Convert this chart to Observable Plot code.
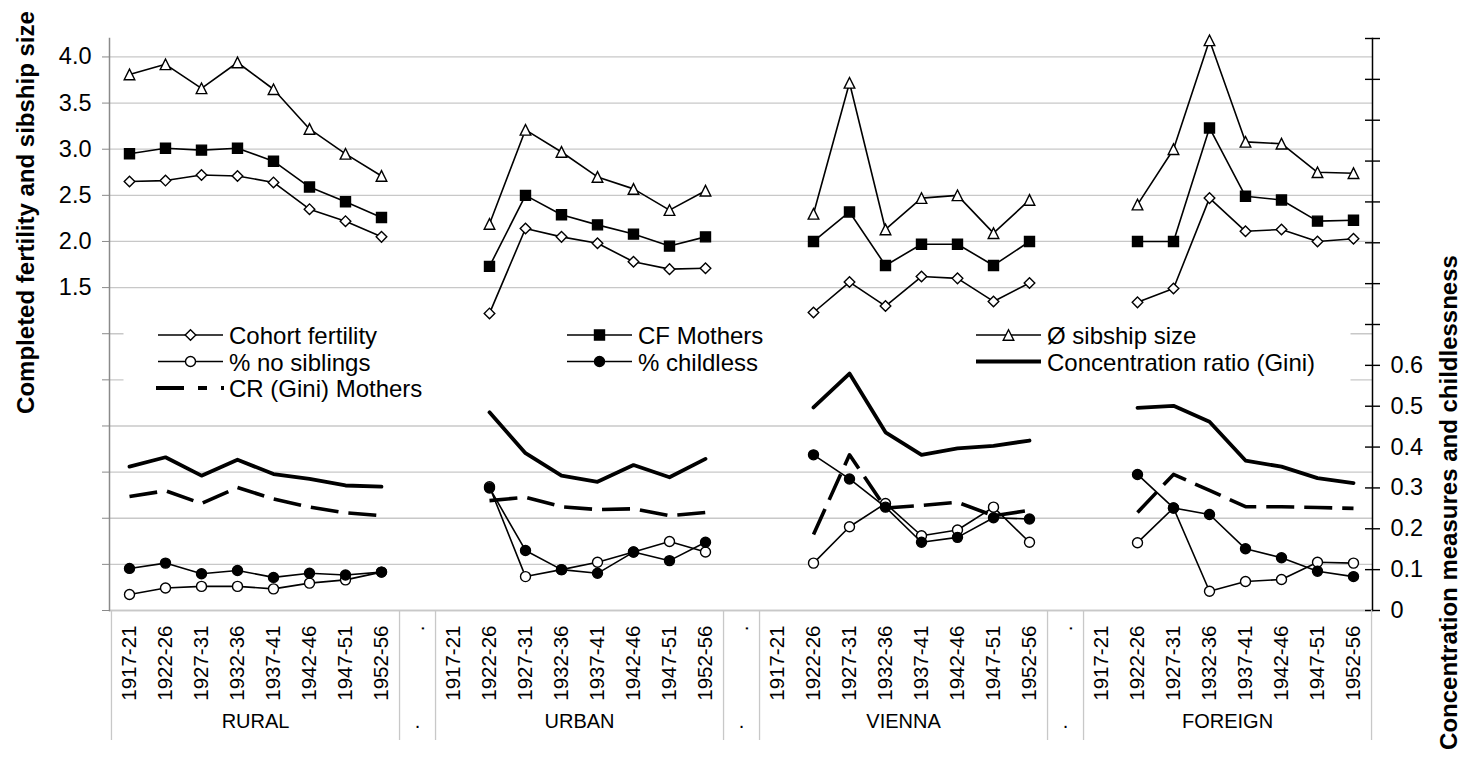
<!DOCTYPE html>
<html><head><meta charset="utf-8">
<script src="https://cdn.jsdelivr.net/npm/d3@7"></script>
<script src="https://cdn.jsdelivr.net/npm/@observablehq/plot@0.6"></script>
<style>
html,body{margin:0;padding:0;background:#fff;}
#chart{position:relative;width:1465px;height:758px;overflow:hidden;}
</style></head><body><div id="chart"></div>
<script>
// ---------- data ----------
const periods = ["1917-21","1922-26","1927-31","1932-36","1937-41","1942-46","1947-51","1952-56"];
const regions = ["RURAL","URBAN","VIENNA","FOREIGN"];
// values by region (8 periods each): RURAL, URBAN, VIENNA, FOREIGN
const cohortFertility = [
  2.65,2.66,2.72,2.71,2.64,2.35,2.22,2.05,
  null,1.22,2.14,2.05,1.98,1.78,1.70,1.71,
  null,1.23,1.56,1.30,1.62,1.60,1.35,1.55,
  null,1.34,1.49,2.47,2.11,2.13,2.00,2.03];
const cfMothers = [
  2.95,3.01,2.99,3.01,2.87,2.59,2.43,2.26,
  null,1.73,2.50,2.29,2.18,2.08,1.95,2.05,
  null,2.00,2.32,1.74,1.97,1.97,1.74,2.00,
  null,2.00,2.00,3.23,2.49,2.45,2.22,2.23];
const sibshipSize = [
  3.81,3.92,3.66,3.94,3.65,3.22,2.95,2.71,
  null,2.19,3.21,2.97,2.70,2.57,2.34,2.55,
  null,2.30,3.72,2.13,2.47,2.50,2.09,2.45,
  null,2.40,3.00,4.18,3.08,3.06,2.75,2.74];
const noSiblings = [
  0.039,0.055,0.059,0.059,0.053,0.067,0.075,0.094,
  null,0.303,0.083,0.100,0.118,0.143,0.169,0.143,
  null,0.116,0.205,0.262,0.183,0.197,0.253,0.167,
  null,0.166,0.251,0.047,0.071,0.076,0.118,0.116];
const childless = [
  0.103,0.116,0.090,0.098,0.081,0.091,0.087,0.094,
  null,0.300,0.147,0.100,0.091,0.143,0.122,0.167,
  null,0.381,0.322,0.253,0.167,0.179,0.227,0.224,
  null,0.333,0.251,0.235,0.151,0.129,0.096,0.083];
const gini = [
  0.352,0.375,0.330,0.369,0.334,0.322,0.306,0.303,
  null,0.485,0.385,0.330,0.315,0.356,0.326,0.371,
  null,0.497,0.580,0.436,0.381,0.397,0.403,0.416,
  null,0.496,0.501,0.462,0.367,0.352,0.324,0.312];
const crMothers = [
  0.279,0.293,0.262,0.301,0.273,0.253,0.239,0.232,
  null,0.269,0.277,0.254,0.247,0.249,0.232,0.240,
  null,0.186,0.381,0.251,0.257,0.265,0.232,0.245,
  null,0.240,0.333,0.294,0.254,0.254,0.252,0.250];

const leftDomain = [-2, 4.2];
const rightDomain = [0, 1.4];
const leftTicks = d3.range(-2, 4.001, 0.5);
const leftLabelMin = 1.5;
const rightTicks = d3.range(0, 1.401, 0.1);
const rightLabelMax = 0.6;

const leftTitle = "Completed fertility and sibship size";
const rightTitle = "Concentration measures and childlessness";

// ---------- helpers ----------
const toLeft = r => leftDomain[0] + (r - rightDomain[0]) * (leftDomain[1]-leftDomain[0]) / (rightDomain[1]-rightDomain[0]);
const toRight = v => rightDomain[0] + (v - leftDomain[0]) * (rightDomain[1]-rightDomain[0]) / (leftDomain[1]-leftDomain[0]);

const cats = [];
const sepKeys = [];
regions.forEach((reg, gi) => {
  periods.forEach(p => cats.push({key: reg + "|" + p, period: p}));
  if (gi < regions.length - 1) { const k = "sep" + gi; sepKeys.push(k); cats.push({key: k, period: "."}); }
});

function rows(values, right) {
  const out = [];
  regions.forEach((reg, gi) => periods.forEach((p, pi) => {
    const v = values[gi * periods.length + pi];
    if (v != null) out.push({key: reg + "|" + p, region: reg, v: right ? toLeft(v) : v});
  }));
  return out;
}

const sym = {
  diamond: {draw(c){ const s=5.3; c.moveTo(0,-s); c.lineTo(s,0); c.lineTo(0,s); c.lineTo(-s,0); c.closePath(); }},
  square: {draw(c){ const s=5; c.rect(-s,-s,2*s,2*s); }},
  triangle: {draw(c){ const s=5.3; c.moveTo(0,-s); c.lineTo(s,s); c.lineTo(-s,s); c.closePath(); }},
  circle: {draw(c){ const r=5; c.moveTo(r,0); c.arc(0,0,r,0,2*Math.PI); c.closePath(); }}
};

const W = 1465, H = 758, mL = 109, mR = 93, mT = 38, mB = 148;
const plotW = W - mL - mR, plotH = H - mT - mB;
const step = plotW / cats.length;
const font = "'Liberation Sans', Arial, sans-serif";
const gridColor = "#c8c8c8";

function series(values, right, symbol, fill) {
  const d = rows(values, right);
  return [
    Plot.line(d, {x: "key", y: "v", z: "region", stroke: "black", strokeWidth: 1.6}),
    Plot.dot(d, {x: "key", y: "v", symbol, r: 5, fill, stroke: "black", strokeWidth: 1.4})
  ];
}

const regionLabelKeys = regions.map(r => ({key: r + "|" + periods[3], label: r}));
const boundaryKeys = [];
cats.forEach((c, i) => {
  const next = cats[i+1];
  if (!next || c.key.startsWith("sep") || next.key.startsWith("sep")) boundaryKeys.push(c.key);
});

const chart = Plot.plot({
  width: W, height: H,
  marginLeft: mL, marginRight: mR, marginTop: mT, marginBottom: mB,
  style: {fontFamily: font, fontSize: "23px", background: "white", color: "black", overflow: "visible"},
  x: {type: "point", domain: cats.map(d => d.key), padding: 0.5, axis: null},
  y: {domain: leftDomain, axis: null},
  marks: [
    Plot.gridY(leftTicks, {stroke: gridColor, strokeOpacity: 1, strokeWidth: 1.3}),
    Plot.frame({anchor: "bottom", stroke: gridColor, strokeWidth: 1.3}),
    // legend background (white box hiding gridlines)
    Plot.frame({fill: "white", stroke: "none", insetLeft: 14, insetRight: 22, insetTop: 262, insetBottom: 205}),
    Plot.frame({anchor: "left", stroke: "#8a8a8a", strokeWidth: 1.5}),
    Plot.frame({anchor: "right", stroke: "black", strokeWidth: 1.5}),
    // left axis
    Plot.axisY(leftTicks, {anchor: "left", tickSize: 7, tickPadding: 11, stroke: "#8a8a8a",
      tickFormat: d => d >= leftLabelMin - 1e-9 ? d.toFixed(1) : "", label: null, fontSize: 23.5}),
    // right axis (crossing ticks + labels)
    Plot.ruleY(rightTicks.map(toLeft), {insetLeft: plotW - 7, insetRight: -8, stroke: "black", strokeWidth: 1.4}),
    Plot.axisY(rightTicks.map(toLeft), {anchor: "right", tickSize: 0, tickPadding: 18, label: null, fontSize: 23.5,
      tickFormat: d => { const r = Math.round(toRight(d) * 10) / 10; return r <= rightLabelMax + 1e-9 ? (r === 0 ? "0" : r.toFixed(1)) : ""; }}),
    // category axis
    Plot.text(cats, {x: "key", text: "period", frameAnchor: "bottom", rotate: -90, textAnchor: "end", lineAnchor: "middle", dy: 15, fontSize: 20.5}),
    Plot.text(regionLabelKeys, {x: "key", text: "label", frameAnchor: "bottom", textAnchor: "middle", dx: step / 2, dy: 117, fontSize: 20}),
    Plot.text(sepKeys, {x: d => d, text: () => ".", frameAnchor: "bottom", textAnchor: "middle", dy: 117, fontSize: 20}),
    Plot.ruleX(boundaryKeys, {x: d => d, dx: step / 2, insetTop: plotH, insetBottom: -130, stroke: gridColor, strokeWidth: 1.3}),
    Plot.ruleX([cats[0].key], {x: d => d, dx: -step / 2, insetTop: plotH, insetBottom: -130, stroke: gridColor, strokeWidth: 1.3}),
    // axis titles
    Plot.text([leftTitle], {text: d => d, frameAnchor: "left", rotate: -90, textAnchor: "middle", dx: 33 - mL, dy: 212 - (mT + plotH / 2), lineAnchor: "bottom", fontWeight: "bold", fontSize: 24}),
    Plot.text([rightTitle], {text: d => d, frameAnchor: "right", rotate: -90, textAnchor: "middle", dx: 84.7, dy: 502 - (mT + plotH / 2), lineAnchor: "bottom", fontWeight: "bold", fontSize: 24}),
    // series
    ...series(cohortFertility, false, sym.diamond, "white"),
    ...series(cfMothers, false, sym.square, "black"),
    ...series(sibshipSize, false, sym.triangle, "white"),
    ...series(noSiblings, true, sym.circle, "white"),
    ...series(childless, true, sym.circle, "black"),
    Plot.line(rows(gini, true), {x: "key", y: "v", z: "region", stroke: "black", strokeWidth: 3.8, strokeLinejoin: "round"}),
    Plot.line(rows(crMothers, true), {x: "key", y: "v", z: "region", stroke: "black", strokeWidth: 3.6, strokeDasharray: "28,10", strokeLinecap: "butt"})
  ]
});
document.getElementById("chart").appendChild(chart);

// ---------- legend ----------
const legendItems = [
  {label: "Cohort fertility", col: 0, row: 0, symbol: "diamond", fill: "white"},
  {label: "CF Mothers", col: 1, row: 0, symbol: "square", fill: "black"},
  {label: "Ø sibship size", col: 2, row: 0, symbol: "triangle", fill: "white"},
  {label: "% no siblings", col: 0, row: 1, symbol: "circle", fill: "white"},
  {label: "% childless", col: 1, row: 1, symbol: "circle", fill: "black"},
  {label: "Concentration ratio (Gini)", col: 2, row: 1, style: "thick"},
  {label: "CR (Gini) Mothers", col: 0, row: 2, style: "dash"}
];
const colX = [158, 567, 976], rowY = [335, 361.5, 388], swLen = 65;
const svg = d3.select(chart);
const lg = svg.append("g").attr("font-family", font).attr("font-size", 24).attr("text-anchor", "start");
legendItems.forEach(it => {
  const x = colX[it.col], y = rowY[it.row];
  const g = lg.append("g");
  if (it.style === "thick") {
    g.append("line").attr("x1", x).attr("x2", x + swLen).attr("y1", y).attr("y2", y).attr("stroke", "black").attr("stroke-width", 3.8);
  } else if (it.style === "dash") {
    g.append("line").attr("x1", x - 2).attr("x2", x + swLen + 1).attr("y1", y).attr("y2", y).attr("stroke", "black").attr("stroke-width", 3.8).attr("stroke-dasharray", "28,14,9,14");
  } else {
    g.append("line").attr("x1", x).attr("x2", x + swLen).attr("y1", y).attr("y2", y).attr("stroke", "black").attr("stroke-width", 1.6);
    const p = d3.path(); sym[it.symbol].draw(p);
    g.append("path").attr("d", p.toString()).attr("transform", `translate(${x + swLen / 2},${y})`).attr("fill", it.fill).attr("stroke", "black").attr("stroke-width", 1.4);
  }
  g.append("text").attr("x", x + 71).attr("y", y + 9).attr("fill", "black").attr("text-anchor", "start").text(it.label);
});
</script>
</body></html>
